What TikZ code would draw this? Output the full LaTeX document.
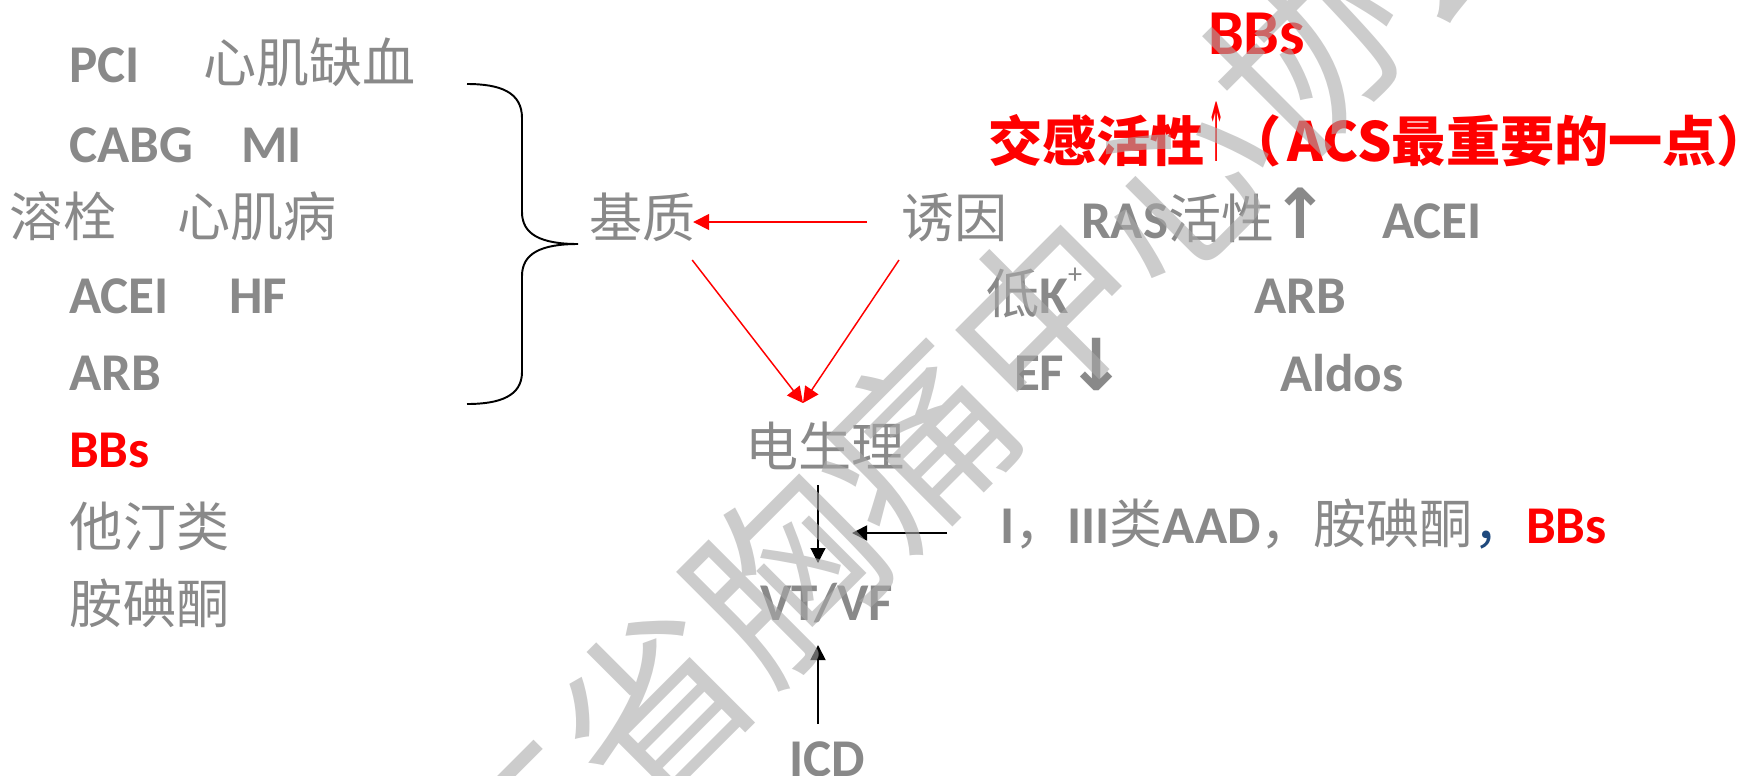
\documentclass[tikz,border=0pt]{standalone}
\usepackage{fontspec}
\usetikzlibrary{arrows.meta,calc}
\newfontfamily\lat{Carlito}
\newfontfamily\cjk{Noto Sans CJK SC}
\newfontfamily\dv{DejaVu Sans}
\definecolor{tgray}{RGB}{137,137,137}
\definecolor{tred}{RGB}{255,0,0}
\definecolor{tblue}{RGB}{31,73,125}
\definecolor{wm}{RGB}{170,170,170}
\newcommand\fsz{\fontsize{15.1pt}{18pt}\selectfont}
\newcommand\LB{\lat\bfseries}
\newcommand\bigup{\kern-0.05em\scalebox{1.3}{\dv\bfseries ↑}}
\newcommand\bigdown{\scalebox{1.35}{\dv\bfseries ↓}}
\newcommand\thinup{\scalebox{0.4}[1.5]{\dv\mdseries ↑}}
\tikzset{
  txt/.style={anchor=base west, inner sep=0pt, outer sep=0pt, text=tgray, font=\fsz},
  lat/.style={txt, font=\fsz\LB},
  han/.style={txt, font=\fsz\cjk},
  redarr/.style={draw=tred, line width=0.42pt, -{Triangle[length=4.5pt,width=4.5pt]}},
  blkarr/.style={draw=black, line width=0.5pt, -{Triangle[length=4.3pt,width=4.3pt]}},
  thinarr/.style={draw=black, line width=0.3pt, -{Triangle[length=4.2pt,width=4.2pt]}},
  bracepath/.style={draw=black, line width=0.55pt},
  wmark/.style={rotate=45, text=wm, opacity=0.6, inner sep=0pt,
    font=\fontsize{52.6pt}{56pt}\selectfont\cjk}
}
\begin{document}
\begin{tikzpicture}[x=0.01cm, y=-0.01cm]
\useasboundingbox (0,0) rectangle (1748,775);

% left column
\node[lat] (pci) at (69,82) {PCI};
\node[han] (xjqx) at (203,82) {心肌缺血};
\node[lat] (cabg) at (69,162) {CABG};
\node[lat] (mi) at (241,162) {MI};
\node[han] (rs) at (10,236) {溶栓};
\node[han] (xjb) at (177,236) {心肌病};
\node[lat] (acei1) at (69,313) {ACEI};
\node[lat] (hf) at (229,313) {HF};
\node[lat] (arb1) at (69,390) {ARB};
\node[lat, text=tred] (bbs1) at (69,467) {BBs};
\node[han] (tt) at (70,546) {他汀类};
\node[han] (adt) at (70,623) {胺碘酮};

% brace
\draw[bracepath] (467,84) .. controls (500,84) and (522,92) .. (522,118)
  -- (522,212) .. controls (522,234) and (540,244) .. (578,244)
  .. controls (540,244) and (522,254) .. (522,276)
  -- (522,372) .. controls (522,396) and (500,404) .. (467,404);

% middle
\node[han] (jizhi) at (589,237) {基质};
\node[han] (youyin) at (901,237) {诱因};
\node[han] (dsl) at (745,466) {电生理};
\node[lat] (vtvf) at (760,620) {VT/VF};
\node[lat] (icd) at (789,776) {ICD};

% right
\node[lat, text=tred, font=\fontsize{18.2pt}{20pt}\selectfont\LB] (bbs2) at (1208,54) {BBs};
\node[txt, text=tred, font=\fontsize{15.4pt}{18pt}\selectfont\cjk\bfseries] (sym) at (988,161)
  {交感活性\kern0.05em\thinup\kern0.03em（\kern0.12em ACS最重要的一点）};
\node[txt] (ras) at (1081,238) {{\LB RAS}{\cjk 活性}\bigup};
\node[lat] (acei2) at (1382,238) {ACEI};
\node[txt] (lowk) at (986,313) {{\cjk 低}{\LB K}\raisebox{0.55em}{\fontsize{8pt}{8pt}\selectfont\lat +}};
\node[lat] (arb2) at (1254,313) {ARB};
\node[txt] (ef) at (1014,390) {{\LB EF}\kern0.05em\bigdown};
\node[lat] (aldos) at (1280,391) {Aldos};
\node[txt] (aad) at (1000,543) {{\LB I}{\cjk ，}{\LB III}{\cjk 类}{\LB AAD}{\cjk ，胺碘酮}{\cjk\color{tblue}，}{\LB\color{tred}BBs}};

% connectors
\draw[redarr] ($(youyin.base west)+(-34,-15)$) -- ($(jizhi.base east)+(-2,-15)$);
\draw[redarr] ($(jizhi.base east)+(-3,23)$) -- ($(dsl.base west)+(58,-63)$);
\draw[redarr] ($(youyin.base west)+(-2,23)$) -- ($(dsl.base west)+(58,-63)$);
\draw[thinarr] ($(dsl.base west)+(73,19)$) -- ($(vtvf.base west)+(58,-57)$);
\draw[blkarr] ($(aad.base west)+(-53,-10)$) -- ($(vtvf.base west)+(92,-87)$);
\draw[blkarr] ($(icd.base west)+(29,-52)$) -- ($(vtvf.base west)+(58,25)$);

% watermark
\node[wmark] (wmk) at (915,445) {广东省胸痛中心协会};
\end{tikzpicture}
\end{document}
